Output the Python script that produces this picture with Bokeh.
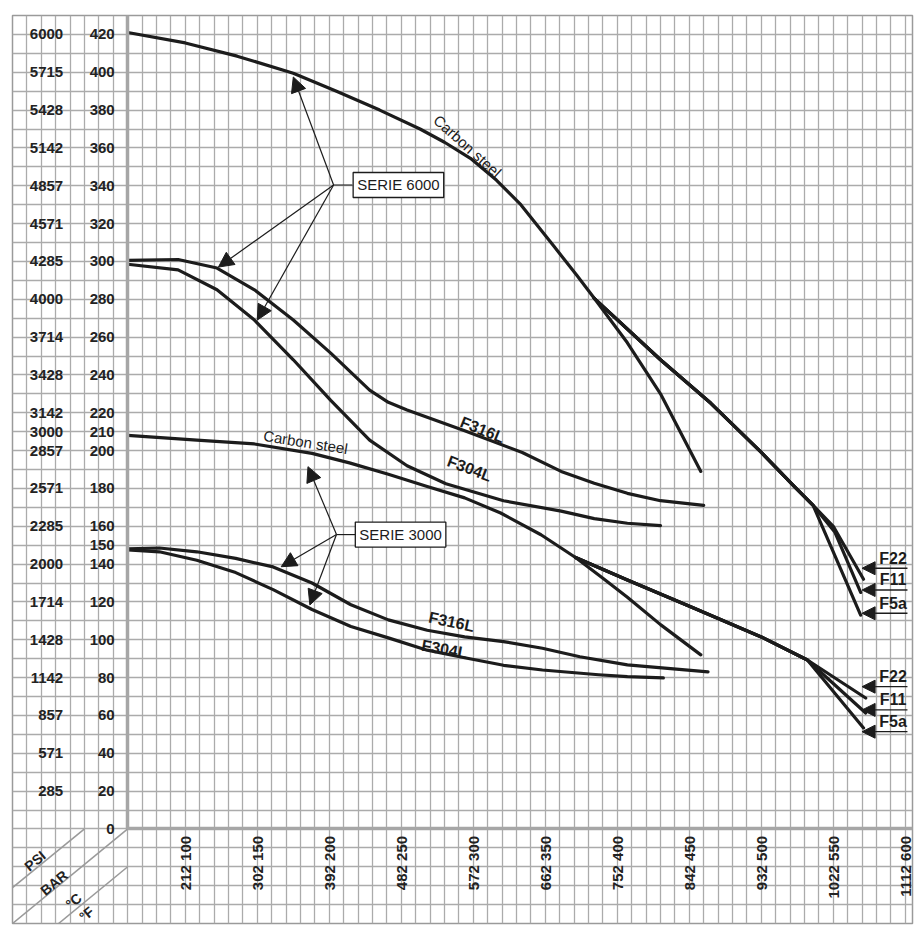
import math
from bokeh.plotting import figure
from bokeh.models import (ColumnDataSource, LinearAxis, FixedTicker, Range1d, Grid,
                          Arrow, NormalHead, Label)
from bokeh.embed import file_html
from bokeh.resources import INLINE

# ---------------- data (temperature in °C, pressure in bar) ----------------
# SERIE 6000
cs6000_t = [60, 100, 136, 175, 205, 235, 263, 280, 298, 316, 333, 356, 372, 384, 407, 430, 458]
cs6000_p = [421, 415.5, 408.5, 399.5, 390, 380, 370, 363, 354.5, 343, 330, 308, 292.5, 280.5, 257, 230, 189]

f316l6000_t = [60, 95, 122, 148, 175, 201, 228, 241, 254, 294, 334, 361, 384, 407, 430, 460]
f316l6000_p = [300.5, 301, 296.5, 285, 269, 251.5, 232, 225.5, 221.5, 210.5, 199, 189, 182.7, 177.4, 173.5, 171]

f304l6000_t = [60, 95, 122, 148, 175, 201, 228, 254, 281, 321, 361, 384, 407, 430]
f304l6000_p = [298.5, 295.5, 285, 269, 248, 226.5, 205.5, 192, 182.5, 173.5, 168, 164, 161.6, 160.3]

f22_6000_t = [384, 430, 465, 500, 523, 536, 550, 571]
f22_6000_p = [280.5, 248, 225, 199, 181, 171, 160, 132]
f11_6000_t = [384, 430, 465, 500, 523, 536, 551, 569]
f11_6000_p = [280.5, 248, 225, 199, 181, 171, 157, 125]
f5a_6000_t = [384, 430, 465, 500, 523, 536, 569]
f5a_6000_p = [280.5, 248, 225, 199, 181, 171, 113]

# SERIE 3000
cs3000_t = [60, 108, 148, 188, 214, 241, 268, 294, 319, 347, 361, 371, 390, 407, 430, 458]
cs3000_p = [208, 205.5, 203.5, 198.5, 193.5, 187.5, 181, 175, 167, 155.5, 148.5, 143.5, 132.5, 122.5, 108, 92]

f316l3000_t = [60, 82, 108, 135, 161, 188, 215, 241, 268, 294, 321, 348, 374, 407, 463]
f316l3000_p = [148, 148.5, 146.5, 143, 138.5, 130, 118.5, 110.5, 105, 101.5, 99, 95.5, 91, 86.7, 83]

f304l3000_t = [60, 82, 108, 135, 161, 188, 215, 241, 268, 294, 321, 348, 387, 407, 432]
f304l3000_p = [147.5, 146.5, 142, 135.5, 126.5, 116, 107, 101, 94.5, 90.5, 86.5, 84, 81.5, 80.5, 79.8]

f22_3000_t = [371, 407, 453, 500, 532, 572.5]
f22_3000_p = [143.5, 131.6, 116.8, 101.5, 89.3, 69.2]
f11_3000_t = [371, 407, 453, 500, 532, 572.5]
f11_3000_p = [143.5, 131.6, 116.8, 101.5, 89.3, 61.3]
f5a_3000_t = [371, 407, 453, 500, 532, 571]
f5a_3000_p = [143.5, 131.6, 116.8, 101.5, 89.3, 53.4]

# ---------------- axis tick values and labels ----------------
temp_c_ticks = [100, 150, 200, 250, 300, 350, 400, 450, 500, 550, 600]
temp_f_labels = ["212", "302", "392", "482", "572", "662", "752", "842", "932", "1022", "1112"]

bar_ticks = [0, 20, 40, 60, 80, 100, 120, 140, 150, 160, 180, 200, 210, 220,
             240, 260, 280, 300, 320, 340, 360, 380, 400, 420]

psi_ticks = [20, 40, 60, 80, 100, 120, 140, 160, 180, 200, 210, 220,
             240, 260, 280, 300, 320, 340, 360, 380, 400, 420]
psi_labels = ["285", "571", "857", "1142", "1428", "1714", "2000", "2285", "2571", "2857",
              "3000", "3142", "3428", "3714", "4000", "4285", "4571", "4857", "5142",
              "5428", "5715", "6000"]

corner_labels = ["PSI", "BAR", "°C", "°F"]
alloy_names = ["F22", "F11", "F5a"]
serie_names = ["SERIE 6000", "SERIE 3000"]

# ---------------- annotation placement (data coords) ----------------
serie_box_xy = [(248, 340.4), (249.5, 155.6)]
serie_junction = [(203, 340.4), (205, 155.6)]
serie_box_left = [216, 218.2]
serie6000_tips = [(175, 397.5), (123, 297), (150, 269)]
serie3000_tips = [(185.2, 191.5), (166.6, 138.6), (186.5, 118.4)]
alloy6000_tip_y = [137.8, 126.3, 114.0]
alloy3000_tip_y = [75.2, 62.9, 51.4]
alloy_tip_x, alloy_end_x, alloy_label_x = 570, 601.5, 591.5

FONT = "Liberation Sans"
INK = "#1c1c1c"
GRIDC = "#ababab"

p = figure(width=914, height=925, output_backend="svg", toolbar_location=None,
           x_range=Range1d(-20, 605), y_range=Range1d(-50, 430),
           x_axis_location=None, y_axis_location=None,
           min_border_left=12, min_border_right=2, min_border_top=15, min_border_bottom=2,
           background_fill_color="white", border_fill_color="white")
p.xgrid.visible = False
p.ygrid.visible = False
p.outline_line_color = "#9a9a9a"
p.outline_line_width = 1.5

gx = Grid(dimension=0, ticker=FixedTicker(ticks=list(range(-20, 611, 10))),
          grid_line_color=GRIDC, grid_line_width=1.3)
gy = Grid(dimension=1, ticker=FixedTicker(ticks=list(range(-50, 431, 10))),
          grid_line_color=GRIDC, grid_line_width=1.3)
p.add_layout(gx, "center")
p.add_layout(gy, "center")

label_kw = dict(major_tick_line_color=None, minor_tick_line_color=None,
                major_tick_out=0, major_tick_in=0, minor_tick_out=0, minor_tick_in=0,
                major_label_text_font=FONT, major_label_text_font_style="bold",
                major_label_text_font_size="15px", major_label_text_color="#222222")

bar_axis = LinearAxis(fixed_location=60, ticker=FixedTicker(ticks=bar_ticks), bounds=(0, 430),
                      axis_line_color="#a6a6a6", axis_line_width=3.5,
                      major_label_standoff=13, **label_kw)
p.add_layout(bar_axis, "left")

psi_axis = LinearAxis(fixed_location=18, ticker=FixedTicker(ticks=psi_ticks),
                      major_label_overrides={t: s for t, s in zip(psi_ticks, psi_labels)},
                      axis_line_color=None, major_label_standoff=4, **label_kw)
p.add_layout(psi_axis, "left")

t_axis = LinearAxis(fixed_location=0, ticker=FixedTicker(ticks=temp_c_ticks), bounds=(60, 605),
                    major_label_overrides={c: f"{f} {c}" for c, f in zip(temp_c_ticks, temp_f_labels)},
                    major_label_orientation=math.pi / 2,
                    axis_line_color="#a6a6a6", axis_line_width=3.5,
                    major_label_standoff=7, **label_kw)
p.add_layout(t_axis, "below")

# corner diagonals
p.segment(x0=[30, 60, 60], y0=[0, 0, -20], x1=[-20, -20, 12], y1=[-31, -50, -50],
          line_color="#9a9a9a", line_width=1.6)
corner_xy = [(-4.4, -16.9), (8.8, -28.5), (22.4, -38.1), (31.4, -44.9)]
for txt, (cx, cy) in zip(corner_labels, corner_xy):
    p.add_layout(Label(x=cx, y=cy, text=txt, angle=39.5, angle_units="deg",
                       text_align="center", text_baseline="middle", text_font=FONT,
                       text_font_style="bold", text_font_size="14px", text_color="#222222"))

# curves
series = [
    (cs6000_t, cs6000_p), (f316l6000_t, f316l6000_p), (f304l6000_t, f304l6000_p),
    (f22_6000_t, f22_6000_p), (f11_6000_t, f11_6000_p), (f5a_6000_t, f5a_6000_p),
    (cs3000_t, cs3000_p), (f316l3000_t, f316l3000_p), (f304l3000_t, f304l3000_p),
    (f22_3000_t, f22_3000_p), (f11_3000_t, f11_3000_p), (f5a_3000_t, f5a_3000_p),
]
for t, pr in series:
    src = ColumnDataSource(data=dict(t=t, p=pr))
    p.line("t", "p", source=src, line_color=INK, line_width=3.2,
           line_join="round", line_cap="round")

# curve labels
curve_label_pos = [
    ("Carbon steel", 296, 361, -42, "normal", "15px"),
    ("Carbon steel", 183.5, 204.5, -9, "normal", "15px"),
    ("F316L", 306.4, 211, -22, "bold", "16px"),
    ("F304L", 297.4, 190.5, -21, "bold", "16px"),
    ("F316L", 284.9, 109.5, -12, "bold", "16px"),
    ("F304L", 280.0, 95, -10, "bold", "16px"),
]
for txt, cx, cy, ang, fs, sz in curve_label_pos:
    p.add_layout(Label(x=cx, y=cy, text=txt, angle=ang, angle_units="deg",
                       text_align="center", text_baseline="middle", text_font=FONT,
                       text_font_style=fs, text_font_size=sz, text_color=INK))

# SERIE boxes, leaders and arrows
for name, (bx, by), (jx, jy), bl, tips in zip(serie_names, serie_box_xy, serie_junction,
                                              serie_box_left, [serie6000_tips, serie3000_tips]):
    p.add_layout(Label(x=bx, y=by, text=name, text_align="center", text_baseline="middle",
                       text_font=FONT, text_font_size="15px", text_color=INK,
                       border_line_color=INK, border_line_width=1.3,
                       background_fill_color="white", padding=4))
    p.segment(x0=[bl], y0=[jy], x1=[jx], y1=[jy], line_color=INK, line_width=1.2)
    for tx, ty in tips:
        p.add_layout(Arrow(end=NormalHead(size=15, fill_color=INK, line_color=INK, line_width=1),
                           x_start=jx, y_start=jy, x_end=tx, y_end=ty,
                           line_color=INK, line_width=1.2))

# alloy pointers
for ys in (alloy6000_tip_y, alloy3000_tip_y):
    for name, ty in zip(alloy_names, ys):
        p.add_layout(Arrow(end=NormalHead(size=13, fill_color=INK, line_color=INK, line_width=1),
                           x_start=alloy_end_x, y_start=ty, x_end=alloy_tip_x, y_end=ty,
                           line_color=INK, line_width=1.3))
        p.add_layout(Label(x=alloy_label_x, y=ty + 0.8, text=name, text_align="center",
                           text_baseline="bottom", text_font=FONT, text_font_style="bold",
                           text_font_size="16px", text_color=INK))

open("out.html", "w").write(file_html(p, INLINE))
